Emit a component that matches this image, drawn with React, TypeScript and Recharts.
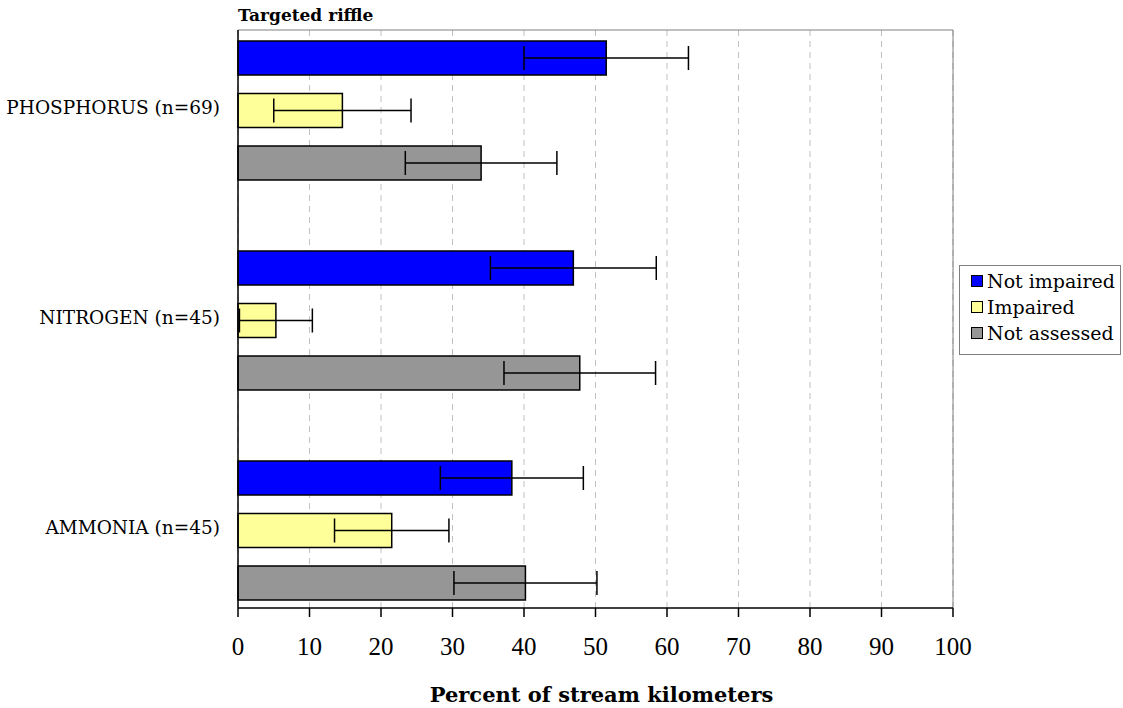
import React from 'react';
import { BarChart, Bar, XAxis, YAxis, CartesianGrid, ErrorBar, Label } from 'recharts';

// Percent of stream kilometers by nutrient condition, targeted riffle sites
const categories = ['PHOSPHORUS (n=69)', 'NITROGEN (n=45)', 'AMMONIA (n=45)'];
const notImpaired = [51.5, 46.9, 38.3];
const notImpairedErr = [11.5, 11.6, 10.0];
const impaired = [14.6, 5.3, 21.5];
const impairedErr = [9.6, 5.1, 8.0];
const notAssessed = [34.0, 47.8, 40.2];
const notAssessedErr = [10.6, 10.6, 10.0];
const xTicks = [0, 10, 20, 30, 40, 50, 60, 70, 80, 90, 100];

const series = [
  { key: 'notImpaired', errKey: 'notImpairedErr', name: 'Not impaired', color: '#0000FF' },
  { key: 'impaired', errKey: 'impairedErr', name: 'Impaired', color: '#FFFF99' },
  { key: 'notAssessed', errKey: 'notAssessedErr', name: 'Not assessed', color: '#969696' },
];

const data = categories.map((name, i) => ({
  name,
  notImpaired: notImpaired[i],
  notImpairedErr: notImpairedErr[i],
  impaired: impaired[i],
  impairedErr: impairedErr[i],
  notAssessed: notAssessed[i],
  notAssessedErr: notAssessedErr[i],
}));

const serif = '"DejaVu Serif", serif';

const LegendBox: React.FC = () => (
  <div
    style={{
      position: 'absolute',
      left: 959,
      top: 265,
      width: 162,
      height: 90,
      border: '1px solid #7f7f7f',
      background: '#fff',
      fontFamily: serif,
      fontSize: 19,
      color: '#000',
      boxSizing: 'border-box',
      paddingTop: 2,
    }}
  >
    {series.map((s) => (
      <div key={s.key} style={{ display: 'flex', alignItems: 'center', height: 26, paddingLeft: 11 }}>
        <span
          style={{
            display: 'inline-block',
            width: 10,
            height: 10,
            background: s.color,
            border: '1.5px solid #000',
            marginRight: 4,
          }}
        />
        <span style={{ lineHeight: '26px', whiteSpace: 'nowrap' }}>{s.name}</span>
      </div>
    ))}
  </div>
);

export default function App() {
  return (
    <div style={{ position: 'absolute', left: 0, top: 0, width: 1123, height: 708, background: '#fff' }}>
      <div
        style={{
          position: 'absolute',
          left: 238,
          top: 7,
          fontFamily: serif,
          fontWeight: 'bold',
          fontSize: 17,
          lineHeight: '17px',
          whiteSpace: 'nowrap',
        }}
      >
        Targeted riffle
      </div>
      <BarChart
        width={1123}
        height={708}
        data={data}
        layout="vertical"
        margin={{ top: 30, right: 170, bottom: 40, left: 0 }}
        barSize={34}
        barGap={18.5}
      >
        <CartesianGrid horizontal={false} stroke="#c0c0c0" strokeDasharray="6 5" />
        <CartesianGrid
          stroke="#808080"
          horizontalCoordinatesGenerator={({ offset }: any) => [offset.top]}
          verticalCoordinatesGenerator={({ offset }: any) => [offset.left + offset.width]}
        />
        <XAxis
          type="number"
          domain={[0, 100]}
          ticks={xTicks}
          interval={0}
          height={60}
          axisLine={{ stroke: '#000', strokeWidth: 1.5 }}
          tickLine={{ stroke: '#000', strokeWidth: 1.5 }}
          tickSize={9}
          tickMargin={20}
          tick={{ fill: '#000', fontSize: 25, fontFamily: '"Liberation Serif", serif' }}
        >
          <Label
            value="Percent of stream kilometers"
            position="bottom"
            offset={19}
            dx={6}
            style={{ fontFamily: serif, fontWeight: 'bold', fontSize: 21, fill: '#000' }}
          />
        </XAxis>
        <YAxis
          type="category"
          dataKey="name"
          width={238}
          axisLine={{ stroke: '#000', strokeWidth: 1.5 }}
          tickLine={false}
          tickSize={6}
          tickMargin={12}
          padding={{ top: -25, bottom: -27 }}
          tick={{ fill: '#000', fontSize: 18.5, fontFamily: serif, dy: -3 }}
        />
        {series.map((s) => (
          <Bar
            key={s.key}
            dataKey={s.key}
            name={s.name}
            fill={s.color}
            stroke="#000"
            strokeWidth={1.5}
            isAnimationActive={false}
          >
            <ErrorBar dataKey={s.errKey} direction="x" width={12} stroke="#000" strokeWidth={1.5} />
          </Bar>
        ))}
      </BarChart>
      <LegendBox />
    </div>
  );
}
